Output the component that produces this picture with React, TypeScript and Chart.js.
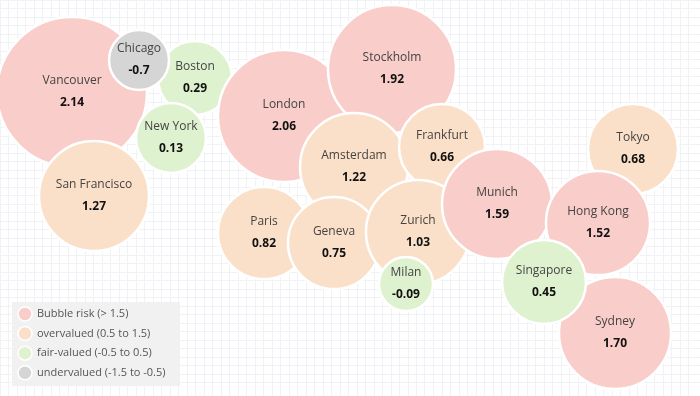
import React, { useEffect, useRef } from "react";
import { Chart, registerables } from "chart.js";

Chart.register(...registerables);

const cities = [
  "Vancouver", "San Francisco", "Boston", "Chicago", "New York", "London",
  "Stockholm", "Paris", "Amsterdam", "Frankfurt", "Geneva", "Zurich",
  "Munich", "Milan", "Tokyo", "Hong Kong", "Sydney", "Singapore",
];
const scores = [
  2.14, 1.27, 0.29, -0.7, 0.13, 2.06,
  1.92, 0.82, 1.22, 0.66, 0.75, 1.03,
  1.59, -0.09, 0.68, 1.52, 1.70, 0.45,
];
const scoreLabels = [
  "2.14", "1.27", "0.29", "-0.7", "0.13", "2.06",
  "1.92", "0.82", "1.22", "0.66", "0.75", "1.03",
  "1.59", "-0.09", "0.68", "1.52", "1.70", "0.45",
];
const xPos = [72, 94, 195, 139, 171, 284, 392, 264, 354, 442, 334, 418, 497, 406, 633, 598, 615, 544];
const yPos = [92, 196, 78, 60, 138, 116, 69, 233, 167, 147, 243, 232, 204, 284, 149, 223, 333, 282];
const bubbleSize = [75, 55, 37, 30, 35, 66, 64, 46, 54, 43, 46, 52, 55, 27, 45, 52, 56, 42];

const categoryNames = [
  "Bubble risk (> 1.5)",
  "overvalued (0.5 to 1.5)",
  "fair-valued (-0.5 to 0.5)",
  "undervalued (-1.5 to -0.5)",
];
const categoryColors = ["#f9cdc9", "#fae0c8", "#dff2cf", "#d5d5d5"];

function categoryOf(v: number): number {
  if (v > 1.5) return 0;
  if (v >= 0.5) return 1;
  if (v >= -0.5) return 2;
  return 3;
}

const FONT = "'Open Sans', 'Noto Sans', sans-serif";

const labelPlugin = {
  id: "bubbleLabels",
  afterDatasetsDraw(chart: any) {
    const ctx = chart.ctx;
    const meta = chart.getDatasetMeta(0);
    ctx.save();
    ctx.textAlign = "center";
    ctx.textBaseline = "middle";
    meta.data.forEach((el: any, i: number) => {
      ctx.fillStyle = "#444";
      ctx.font = `12px ${FONT}`;
      ctx.fillText(cities[i], el.x, el.y - 11);
      ctx.fillStyle = "#111";
      ctx.font = `bold 12px ${FONT}`;
      ctx.fillText(scoreLabels[i], el.x, el.y + 11);
    });
    ctx.restore();
  },
};

const legendPlugin = {
  id: "boxLegend",
  afterDraw(chart: any) {
    const ctx = chart.ctx;
    ctx.save();
    ctx.fillStyle = "rgba(240,240,240,0.95)";
    ctx.fillRect(12, 302, 168, 84);
    ctx.textBaseline = "middle";
    ctx.textAlign = "left";
    ctx.font = `11px ${FONT}`;
    categoryNames.forEach((name, i) => {
      const y = 314 + i * 19.6;
      ctx.beginPath();
      ctx.arc(25, y, 7, 0, Math.PI * 2);
      ctx.fillStyle = categoryColors[i];
      ctx.fill();
      ctx.lineWidth = 1.5;
      ctx.strokeStyle = "#ffffff";
      ctx.stroke();
      ctx.fillStyle = "#555";
      ctx.fillText(name, 37, y);
    });
    ctx.restore();
  },
};

export default function App() {
  const ref = useRef<HTMLCanvasElement | null>(null);
  useEffect(() => {
    if (!ref.current) return;
    const colors = scores.map((v) => categoryColors[categoryOf(v)]);
    const chart = new Chart(ref.current, {
      type: "bubble",
      data: {
        datasets: [
          {
            label: "cities",
            data: cities.map((c, i) => ({ x: xPos[i], y: yPos[i], r: bubbleSize[i] })),
            backgroundColor: colors,
            borderColor: "#ffffff",
            borderWidth: 2.5,
            clip: false,
          } as any,
        ],
      },
      options: {
        animation: false,
        responsive: false,
        maintainAspectRatio: false,
        layout: { padding: 0, autoPadding: false },
        plugins: { legend: { display: false }, tooltip: { enabled: false } },
        scales: {
          x: {
            type: "linear",
            min: 0,
            max: 700,
            border: { display: false },
            ticks: { display: false, stepSize: 8.5, maxTicksLimit: 200, autoSkip: false },
            grid: { color: "#f0f2f6", drawTicks: false, lineWidth: 1 },
          },
          y: {
            type: "linear",
            min: 0,
            max: 396,
            reverse: true,
            border: { display: false },
            ticks: { display: false, stepSize: 8.5, maxTicksLimit: 200, autoSkip: false },
            grid: { color: "#f0f2f6", drawTicks: false, lineWidth: 1 },
          },
        },
      } as any,
      plugins: [labelPlugin, legendPlugin],
    });
    return () => chart.destroy();
  }, []);
  return (
    <div style={{ position: "fixed", left: 0, top: 0, width: 700, height: 396, background: "#fff" }}>
      <canvas ref={ref} width={700} height={396} style={{ display: "block" }} />
    </div>
  );
}
